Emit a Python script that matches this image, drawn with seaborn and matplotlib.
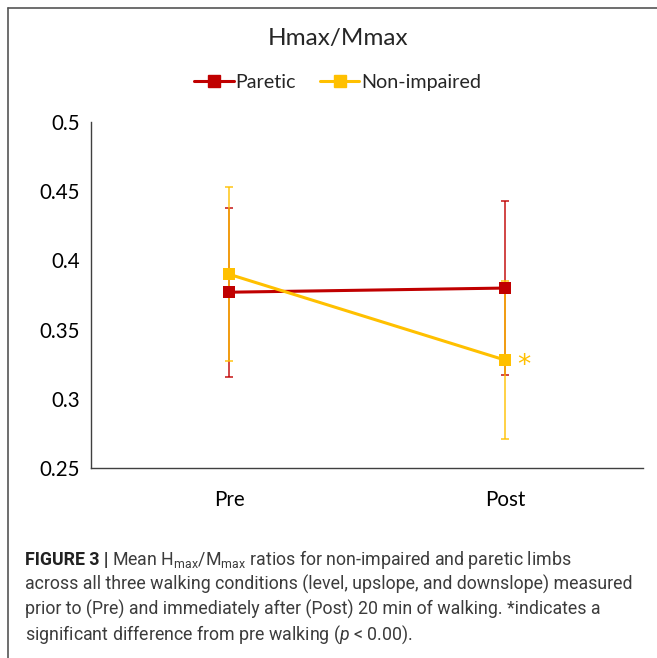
import pandas as pd
import matplotlib.pyplot as plt
import seaborn as sns
from matplotlib.lines import Line2D

# --- data ---
timepoints = ['Pre', 'Post']
paretic_mean = [0.377, 0.380]
paretic_err = [0.061, 0.063]
nonimp_mean = [0.390, 0.328]
nonimp_err = [0.063, 0.057]
groups = ['Paretic', 'Non-impaired']
colors = ['#C00000', '#FFC000']

df = pd.DataFrame({
    'time': timepoints * 2,
    'group': [groups[0]] * 2 + [groups[1]] * 2,
    'ratio': paretic_mean + nonimp_mean,
})

sns.set_style('white')
plt.rcParams['font.family'] = ['Lato', 'DejaVu Sans']
plt.rcParams['mathtext.fontset'] = 'custom'
plt.rcParams['mathtext.rm'] = 'Roboto'
plt.rcParams['mathtext.it'] = 'Roboto:italic'

fig = plt.figure(figsize=(6.57, 6.58), dpi=100)
ax = fig.add_axes([0.1385, 0.2888, 0.840, 0.5258])

# error bars first so the markers sit on top
for mean, err, col in [(paretic_mean, paretic_err, colors[0]),
                       (nonimp_mean, nonimp_err, colors[1])]:
    ax.errorbar([0, 1], mean, yerr=err, fmt='none', ecolor=col,
                elinewidth=1.2, capsize=3, capthick=1.2, alpha=0.85, zorder=2)

sns.lineplot(data=df, x='time', y='ratio', hue='group', hue_order=groups,
             palette=colors, marker='s', markersize=9, markeredgewidth=0,
             linewidth=2.2, ax=ax, legend=False, zorder=3)

# significance mark
ax.text(1.07, nonimp_mean[1] - 0.004, '*', color=colors[1], fontsize=19,
        ha='center', va='center', family='DejaVu Sans')

ax.set_xlim(-0.5, 1.5)
ax.set_ylim(0.25, 0.5)
ax.set_yticks([0.25, 0.3, 0.35, 0.4, 0.45, 0.5])
ax.set_yticklabels(['0.25', '0.3', '0.35', '0.4', '0.45', '0.5'])
ax.set_xlabel('')
ax.set_ylabel('')
ax.tick_params(axis='both', length=0, labelsize=14.8, colors='#000000')
ax.tick_params(axis='y', pad=8)
ax.tick_params(axis='x', pad=16)
for s in ['top', 'right']:
    ax.spines[s].set_visible(False)
for s in ['left', 'bottom']:
    ax.spines[s].set_color('#404040')
    ax.spines[s].set_linewidth(1.0)

fig.text(0.514, 0.942, 'Hmax/Mmax', ha='center', va='center', fontsize=17.5)

handles = [Line2D([], [], color=c, marker='s', markersize=9, linewidth=2.2)
           for c in colors]
fig.legend(handles, groups, loc='center', bbox_to_anchor=(0.514, 0.875),
           ncol=2, frameon=False, fontsize=14.2, handlelength=2.0,
           handletextpad=0.1, columnspacing=1.2)

# frame around chart + caption
fig.add_artist(Line2D([8 / 657, 8 / 657], [0, 1 - 8 / 658],
                      color='#555555', linewidth=1.2))
fig.add_artist(Line2D([8 / 657, 1], [1 - 8 / 658, 1 - 8 / 658],
                      color='#555555', linewidth=1.2))

# caption
cap_x = 25 / 657
cap_size = 12.8
cap_kw = dict(fontsize=cap_size, family='Roboto', fontweight='normal',
              color='#3c3c3c', va='baseline', ha='left')
t = fig.text(cap_x, 1 - 565 / 658, 'FIGURE 3 |', fontsize=cap_size,
             family='Roboto', fontweight='bold', color='#222222',
             va='baseline', ha='left')
fig.canvas.draw()
bb = t.get_window_extent()
fig.text(bb.x1 / fig.bbox.width + 0.006, 1 - 565 / 658,
         r'Mean H$_{\rm max}$/M$_{\rm max}$ ratios for non-impaired and paretic limbs',
         **cap_kw)
fig.text(cap_x, 1 - 590 / 658,
         'across all three walking conditions (level, upslope, and downslope) measured',
         **cap_kw)
fig.text(cap_x, 1 - 615 / 658,
         'prior to (Pre) and immediately after (Post) 20 min of walking. *indicates a',
         **cap_kw)
fig.text(cap_x, 1 - 640 / 658,
         r'significant difference from pre walking ($p$ < 0.00).',
         **cap_kw)

fig.savefig('out.png', dpi=100)
